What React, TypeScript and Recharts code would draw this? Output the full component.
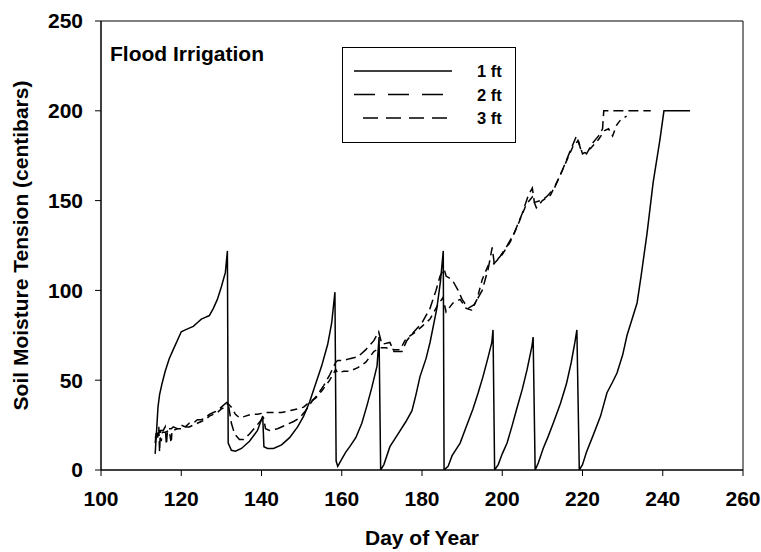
import React from 'react';
import { LineChart, Line, XAxis, YAxis, ReferenceArea, Legend } from 'recharts';

const FONT = '"Liberation Sans", Arial, Helvetica, sans-serif';

const chartTitle = 'Flood Irrigation';
const xAxisTitle = 'Day of Year';
const yAxisTitle = 'Soil Moisture Tension (centibars)';
const xTicks = [100, 120, 140, 160, 180, 200, 220, 240, 260];
const yTicks = [0, 50, 100, 150, 200, 250];
const seriesNames = ['1 ft', '2 ft', '3 ft'];

const ft1Days = [113.5, 113.8, 114.2, 114.6, 115.2, 116, 117, 118, 119, 120, 121, 122, 123, 124, 125, 126, 127, 128, 129, 130, 131, 131.5, 131.7, 132.5, 133.5, 135, 137, 139, 140.3, 140.6, 141.5, 143, 145, 147, 149, 150.5, 152, 153.5, 155, 156.5, 157.5, 158.3, 158.6, 159, 160, 161, 162, 163.5, 165, 166.3, 167.5, 168.8, 169.3, 169.7, 170.5, 172, 174, 176, 177.5, 178.5, 179.5, 181, 182, 183.7, 184.6, 185.3, 185.5, 186.5, 187.5, 189.5, 191, 192.7, 194, 195.2, 196.5, 197.4, 197.7, 198.1, 199, 200, 201.2, 202.5, 203.6, 205, 206.2, 207.4, 207.7, 208.2, 209, 210.2, 211.5, 212.7, 214.5, 216, 217.2, 218.1, 218.6, 219.2, 220, 221, 222.6, 224.5, 226.1, 227.5, 228.6, 230, 231.1, 232.5, 233.6, 234.6, 236.1, 237.6, 239.3, 240.3, 246.8];
const ft1Values = [9, 20, 35, 42, 48, 55, 62, 67, 72, 77, 78, 79, 80, 82, 84, 85, 86, 90, 95, 102, 110, 122, 15, 11, 10.5, 12, 16, 22, 30, 13, 12, 12, 14, 18, 24, 30, 38, 48, 58, 70, 82, 99, 5, 2, 6, 10, 13, 18, 26, 36, 46, 58, 74, 0, 3, 13, 20, 27, 33, 42, 52, 62, 71, 90, 105, 122, 0, 2, 8, 15, 24, 34, 43, 52, 63, 71, 78, 0, 3, 9, 15, 25, 34, 45, 56, 69, 74, 0, 4, 12, 19, 26, 37, 48, 60, 71, 78, 0, 3, 10, 19, 30, 43, 49, 54, 64, 75, 85, 93, 108, 132, 160, 184, 200, 200];

const ft2Days = [113.5, 113.8, 114.1, 114.4, 114.6, 114.8, 115.5, 116, 116.3, 116.6, 117.5, 118, 119, 120, 121, 122, 123, 124, 125, 126, 127, 128, 129, 130, 131, 131.6, 132, 132.5, 133.3, 134.5, 135.5, 137, 138.5, 140, 140.5, 141, 142, 144, 146, 148, 149.5, 151, 152.5, 154, 155.5, 157, 158.5, 159, 160.5, 162, 164, 166, 168, 169.2, 170, 172, 173, 175, 176.2, 178, 180, 182, 183.5, 184.5, 185.5, 186, 187.5, 189, 190, 191.5, 193, 195, 196.5, 197.5, 198, 199.5, 201, 203, 205, 206.5, 207.5, 208, 209.5, 211, 213, 215, 217, 218.5, 219.5, 221, 222.5, 224, 225, 225.3, 237];
const ft2Values = [15, 22, 18, 24, 10, 22, 22, 24, 14, 23, 23, 24, 23, 25, 24, 26, 26, 28, 28, 29, 31, 32, 33, 35, 37, 38, 33, 26, 20, 17, 17, 20, 24, 28, 29, 23, 22, 23, 25, 27, 29, 33, 38, 42, 47, 53, 60, 61, 61, 62, 63, 67, 72, 77, 70, 71, 66, 66, 72, 77, 82, 90, 100, 108, 112, 108, 106, 100, 95, 90, 92, 100, 112, 124, 115, 119, 124, 132, 143, 153, 157, 149, 150, 152, 157, 167, 178, 186, 179, 176, 182, 186, 190, 200, 200];

const ft3Days = [113.5, 114, 114.5, 115, 115.3, 116, 117, 117.5, 117.7, 118, 119, 120, 121, 122, 123, 124, 125, 126, 127, 128, 129, 130, 131, 131.6, 132.5, 133.5, 134.6, 136, 137.5, 139, 141, 143, 145, 147, 149, 150.5, 152, 153.5, 155, 157, 158.5, 159, 160.5, 162, 164, 166, 168, 169.5, 171, 173, 174.5, 176, 178.5, 180, 182, 183.7, 185.2, 186, 187.7, 189.5, 191, 192.4, 193.7, 195, 196.5, 198, 200, 202, 204, 206, 207.5, 208.5, 210, 212, 214, 216, 218, 219, 220, 222, 224, 225.5, 226.5, 227.5, 228.5, 229.5, 231];
const ft3Values = [18, 20, 21, 16, 21, 21, 22, 15, 22, 22, 23, 23, 24, 24, 25, 26, 27, 28, 30, 31, 32, 34, 35, 37, 35, 31, 29, 30, 31, 31, 32, 32, 32, 33, 34, 35, 38, 40, 44, 50, 56, 54, 55, 55, 57, 60, 66, 68, 68, 67, 67, 73, 77, 80, 84, 91, 96, 88, 93, 95, 90, 89, 95, 106, 114, 115, 120, 127, 137, 148, 152, 146, 150, 153, 162, 172, 182, 183, 176, 179, 184, 189, 190, 186, 192, 195, 197];

const toPoints = (days: number[], values: number[]) => days.map((d, i) => ({ day: d, value: values[i] }));
const seriesData = [toPoints(ft1Days, ft1Values), toPoints(ft2Days, ft2Values), toPoints(ft3Days, ft3Values)];
const plotDashes = [undefined, '10 5', '7 5'];
const legendDashes = [undefined, '21 13', '15 8'];
const legendLineStart = [354, 354, 363];
const legendLineEnd = [452, 443, 447];

const LegendBox = () => (
  <svg width={761} height={150} style={{ display: 'block', overflow: 'visible' }}>
    <text x={110} y={61} fontSize={21} fontWeight="bold" fontFamily={FONT} fill="#000">{chartTitle}</text>
    <rect x={342.5} y={47.5} width={173} height={95} fill="#fff" stroke="#000" strokeWidth={1} />
    {seriesNames.map((name, i) => {
      const y = 71 + i * 23.5;
      return (
        <g key={name}>
          <line x1={legendLineStart[i]} x2={legendLineEnd[i]} y1={y} y2={y} stroke="#000" strokeWidth={1.3} strokeDasharray={legendDashes[i]} />
          <text x={477} y={y + 6} fontSize={16.5} fontWeight="bold" fontFamily={FONT} fill="#000">{name}</text>
        </g>
      );
    })}
  </svg>
);

const tickStyle = { fontSize: 21, fontWeight: 'bold', fill: '#000', fontFamily: FONT };
const titleStyle = { fontSize: 21, fontWeight: 'bold', fill: '#000', fontFamily: FONT };

export default function App() {
  return (
    <div style={{ position: 'absolute', left: 0, top: 0, width: 761, height: 552, background: '#fff', fontFamily: FONT }}>
      <LineChart width={761} height={552} margin={{ top: 21, right: 18, bottom: 17, left: 21 }}>
        <XAxis
          dataKey="day"
          type="number"
          domain={[100, 260]}
          ticks={xTicks}
          allowDataOverflow
          tickSize={6}
          tickMargin={15}
          height={65}
          stroke="#000"
          tick={tickStyle}
          tickLine={{ stroke: '#000' }}
          axisLine={{ stroke: '#000' }}
          label={{ value: xAxisTitle, position: 'bottom', offset: -5, style: titleStyle }}
        />
        <YAxis
          type="number"
          domain={[0, 250]}
          ticks={yTicks}
          allowDataOverflow
          width={80}
          tickSize={6}
          tickMargin={12}
          stroke="#000"
          tick={tickStyle}
          tickLine={{ stroke: '#000' }}
          axisLine={{ stroke: '#000' }}
          label={{ value: yAxisTitle, angle: -90, position: 'insideLeft', offset: 0, style: { ...titleStyle, textAnchor: 'middle' } }}
        />
        <ReferenceArea x1={100} x2={260} y1={0} y2={250} fill="none" stroke="#000" strokeWidth={1} fillOpacity={0} />
        {seriesData.map((d, i) => (
          <Line
            key={seriesNames[i]}
            data={d}
            dataKey="value"
            name={seriesNames[i]}
            type="linear"
            stroke="#000"
            strokeWidth={1.5}
            strokeDasharray={plotDashes[i]}
            dot={false}
            activeDot={false}
            isAnimationActive={false}
          />
        ))}
        <Legend
          layout="vertical"
          align="center"
          verticalAlign="middle"
          wrapperStyle={{ position: 'absolute', left: 0, top: 0, width: 761, height: 150, pointerEvents: 'none' }}
          content={() => <LegendBox />}
        />
      </LineChart>
    </div>
  );
}
